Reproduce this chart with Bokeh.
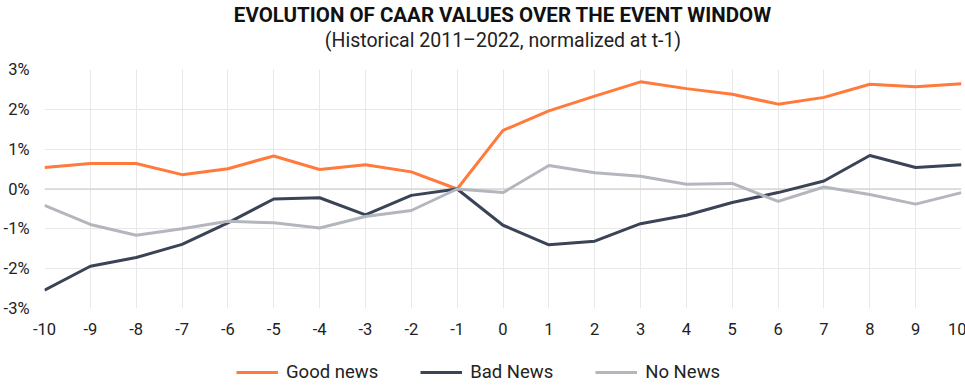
from bokeh.plotting import figure
from bokeh.layouts import column
from bokeh.models import (Title, Legend, LegendItem, FixedTicker,
                          Range1d, Span)
from bokeh.embed import file_html
from bokeh.resources import INLINE

# Event window
days = list(range(-10, 11))
x_tick_labels = [str(d) for d in days]
y_ticks = [-3, -2, -1, 0, 1, 2, 3]
y_tick_labels = ["-3%", "-2%", "-1%", "0%", "1%", "2%", "3%"]

# CAAR values, in percent
good_news = [0.54, 0.64, 0.64, 0.36, 0.51, 0.83, 0.49, 0.61, 0.43, 0.0,
             1.47, 1.96, 2.33, 2.69, 2.52, 2.38, 2.13, 2.30, 2.63, 2.57, 2.64]
bad_news = [-2.54, -1.94, -1.72, -1.39, -0.85, -0.25, -0.22, -0.65, -0.16, 0.0,
            -0.91, -1.40, -1.31, -0.87, -0.66, -0.34, -0.09, 0.20, 0.84, 0.54, 0.61]
no_news = [-0.41, -0.89, -1.16, -1.00, -0.81, -0.85, -0.98, -0.69, -0.54, 0.0,
           -0.09, 0.59, 0.41, 0.32, 0.12, 0.14, -0.31, 0.05, -0.14, -0.38, -0.09]

series_names = ["Good news", "Bad News", "No News"]
series_colors = ["#FF7A3B", "#3A4456", "#B3B7BD"]
series_values = [good_news, bad_news, no_news]

FONT = "Roboto"

p = figure(frame_width=917, frame_height=239, output_backend="svg", toolbar_location=None,
           title=None, x_range=Range1d(-10, 10), y_range=Range1d(-3, 3),
           min_border_left=35, min_border_right=5, min_border_top=0,
           min_border_bottom=0)
p.outline_line_color = None
p.background_fill_color = "white"
p.border_fill_color = "white"

spacer = Title(text=" ", align="center", text_font=FONT, text_font_size="14px", standoff=0)
sub = Title(text="(Historical 2011\u20132022, normalized at t-1)", align="center",
            text_font=FONT, text_font_size="19.5px", text_font_style="normal",
            text_color="#222222", standoff=0)
main = Title(text="EVOLUTION OF CAAR VALUES OVER THE EVENT WINDOW", align="center",
             text_font=FONT, text_font_size="20.5px", text_font_style="bold",
             text_color="#111111", standoff=0)
p.add_layout(spacer, "above")
p.add_layout(sub, "above")
p.add_layout(main, "above")

for vals, col in zip(series_values, series_colors):
    p.line(days, vals, line_color=col, line_width=3)

p.xaxis.ticker = FixedTicker(ticks=days)
p.yaxis.ticker = FixedTicker(ticks=y_ticks)
p.xaxis.major_label_overrides = dict(zip(days, x_tick_labels))
p.yaxis.major_label_overrides = dict(zip(y_ticks, y_tick_labels))
for ax in [p.xaxis[0], p.yaxis[0]]:
    ax.axis_line_color = None
    ax.major_tick_line_color = None
    ax.minor_tick_line_color = None
    ax.major_label_text_font = FONT
    ax.major_label_text_font_size = "16.5px"
    ax.major_label_text_color = "#222222"
p.xaxis.major_label_standoff = 8
p.yaxis.major_label_standoff = 9

p.xgrid.grid_line_color = "#E8E8E8"
p.ygrid.grid_line_color = "#E8E8E8"

zero = Span(location=0, dimension="width", line_color="#D6D6D6", line_width=1.5,
            level="underlay")
p.add_layout(zero)

# Legend strip: a second, axis-less figure below the chart
leg = figure(width=957, height=50, output_backend="svg", toolbar_location=None,
             x_range=Range1d(1000, 1001), y_range=Range1d(1000, 1001),
             x_axis_location=None, y_axis_location=None,
             min_border_left=0, min_border_right=0, min_border_top=0,
             min_border_bottom=0)
leg.outline_line_color = None
leg.grid.visible = False
leg.background_fill_color = "white"
leg.border_fill_color = "white"
leg_renderers = [leg.line(days, vals, line_color=col, line_width=3)
                 for vals, col in zip(series_values, series_colors)]

legend = Legend(items=[LegendItem(label=n, renderers=[r])
                       for n, r in zip(series_names, leg_renderers)],
                orientation="horizontal", location=(192, 4),
                label_text_font=FONT, label_text_font_size="18.5px",
                label_text_color="#222222", glyph_width=42, glyph_height=22,
                spacing=42, label_standoff=8, border_line_color=None,
                background_fill_alpha=0, padding=0, margin=0)
leg.add_layout(legend, "center")

layout = column(p, leg, spacing=0)
open("out.html", "w").write(file_html(layout, INLINE))
